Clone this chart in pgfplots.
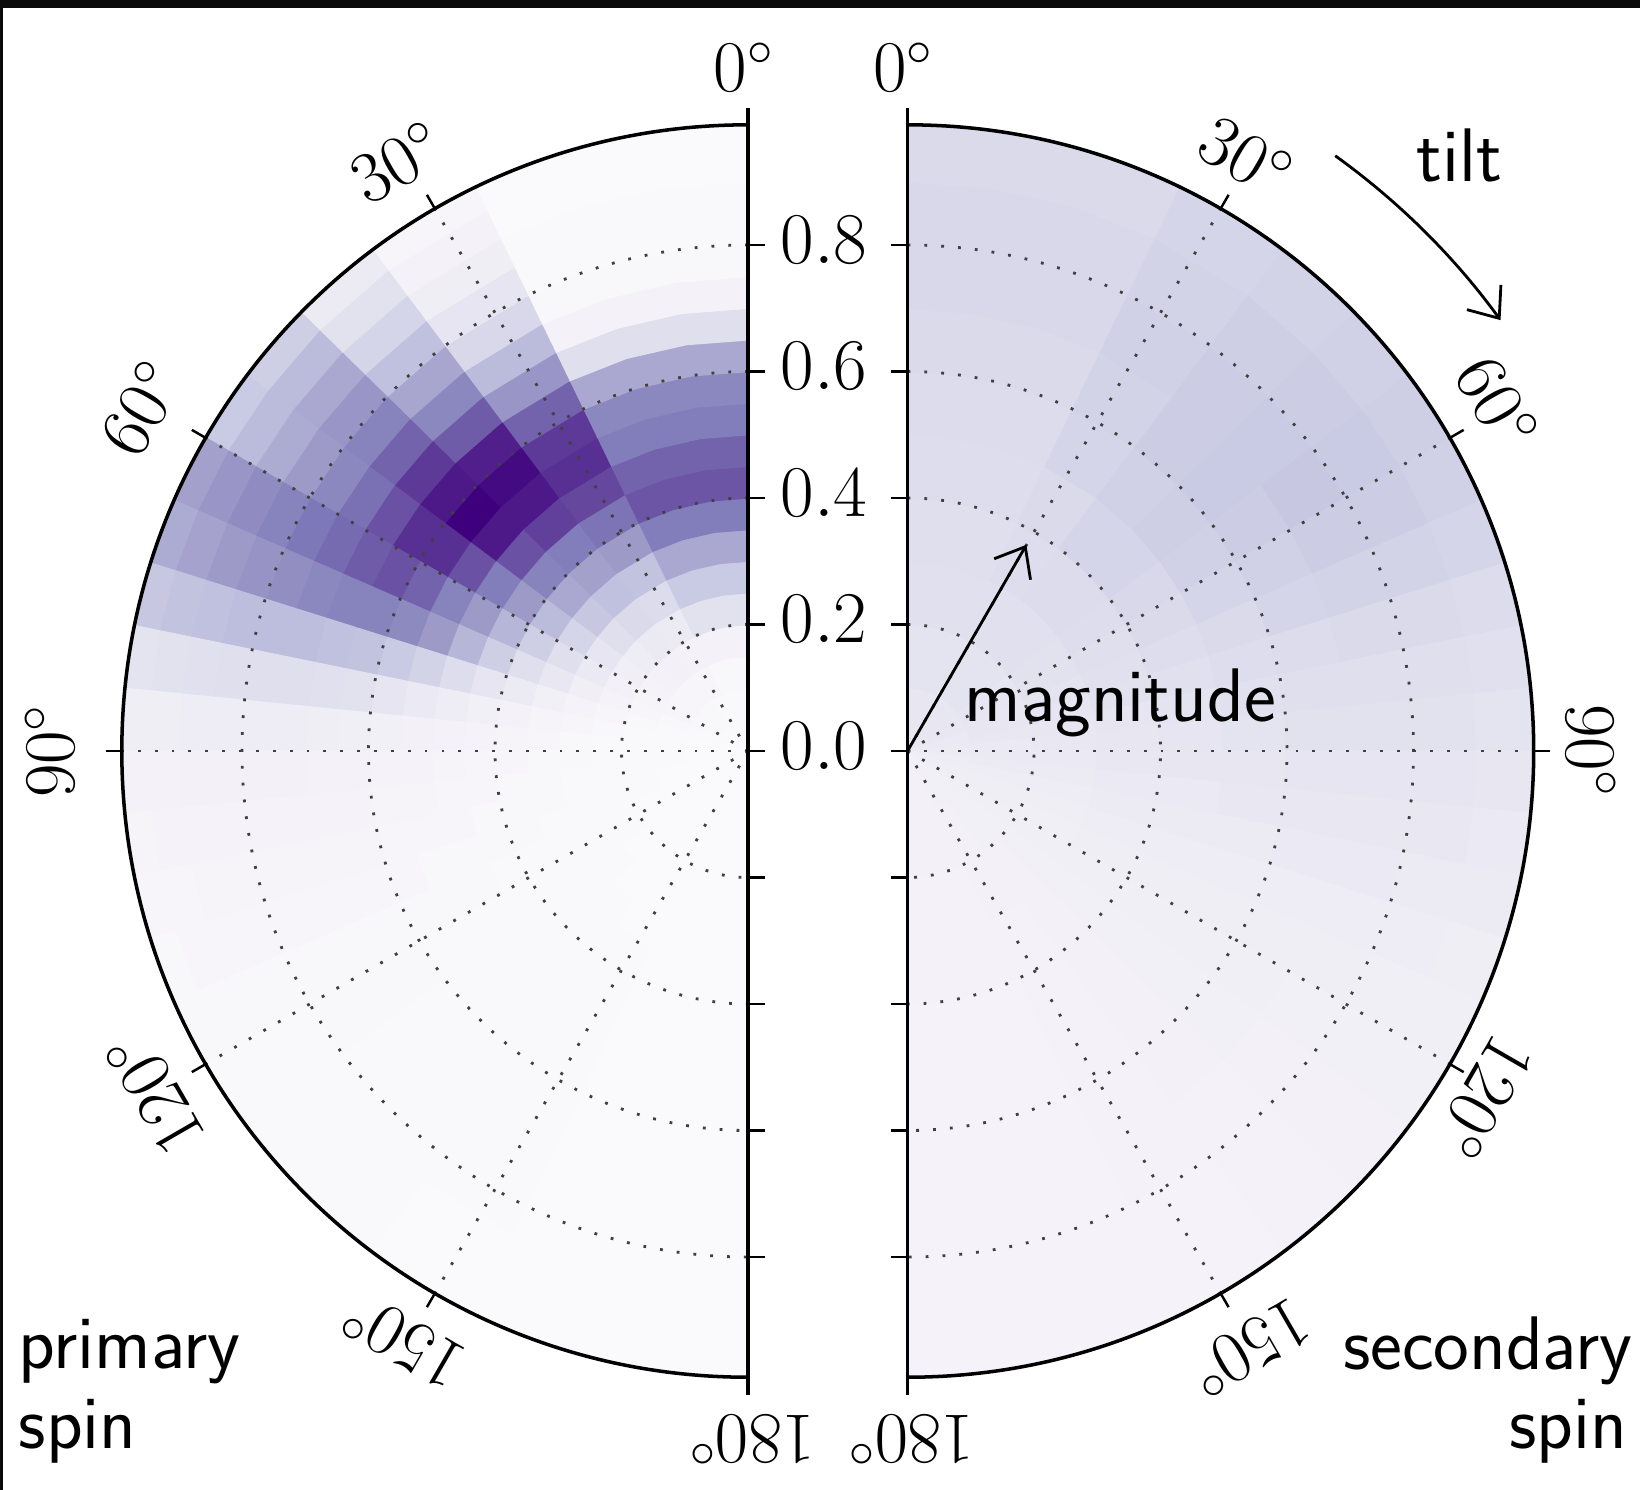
\documentclass[border=0pt]{standalone}
\usepackage{pgfplots}
\pgfplotsset{compat=1.18}
\usetikzlibrary{arrows.meta}

\newcommand\numfont{\fontsize{21.5}{25}\selectfont}
\newcommand\txtfont{\fontsize{21.6}{25}\selectfont\sffamily}

\pgfplotsset{
  spinpanel/.style={
    hide axis, clip=false,
    x=6.325cm, y=6.325cm,
    ymin=-1.15, ymax=1.15,
    anchor=south west,
    colormap={purples}{rgb255=(252,251,253) rgb255=(239,237,245) rgb255=(218,218,235)
      rgb255=(188,189,220) rgb255=(158,154,200) rgb255=(128,125,186)
      rgb255=(106,81,163) rgb255=(84,39,143) rgb255=(63,0,125)},
    point meta min=0, point meta max=1,
  },
}
\tikzset{
  spingrid/.style={black!75, line width=0.8pt, dash pattern=on 0.8pt off 4pt},
  spinframe/.style={line width=1.0pt},
  barb/.style={-{Straight Barb[length=2.6mm,width=4.2mm]}, line width=0.8pt},
  lbl/.style={font=\numfont, inner sep=0.5pt},
}

\begin{document}
\begin{tikzpicture}
\fill[white] (0,0) rectangle (16.4,-14.9);
\fill[black!96] (0,0) rectangle (16.4,-0.08);
\fill[black!96] (0,0) rectangle (0.03,-14.9);

% ---------------- primary spin (left half disk), centre at (7.48,-7.51)
\begin{scope}[shift={(0.5225,-14.78375)}]
\begin{axis}[spinpanel, xmin=-1.1, xmax=0.2]
\addplot[surf, shader=flat corner, point meta=explicit, data cs=polar]
  table[x expr=\thisrow{t}+90, y=r, meta=v] {
t r v
0 0 0.03
8.61 0 0.03
17.23 0 0.03
25.84 0 0.03
36.87 0 0.03
45.57 0 0.03
53.13 0 0.03
60 0 0.03
66.42 0 0.03
72.54 0 0.02
78.46 0 0.02
84.26 0 0.02
90 0 0.02
95.74 0 0.02
101.54 0 0.02
107.46 0 0.02
113.58 0 0.02
120 0 0.02
126.87 0 0.02
134.43 0 0.02
143.13 0 0.02
154.16 0 0.02
162.77 0 0.02
171.39 0 0.02
180 0 0.02

0 0.05 0.03
8.61 0.05 0.03
17.23 0.05 0.03
25.84 0.05 0.03
36.87 0.05 0.04
45.57 0.05 0.04
53.13 0.05 0.04
60 0.05 0.04
66.42 0.05 0.03
72.54 0.05 0.03
78.46 0.05 0.02
84.26 0.05 0.02
90 0.05 0.02
95.74 0.05 0.02
101.54 0.05 0.02
107.46 0.05 0.02
113.58 0.05 0.02
120 0.05 0.02
126.87 0.05 0.02
134.43 0.05 0.02
143.13 0.05 0.02
154.16 0.05 0.02
162.77 0.05 0.02
171.39 0.05 0.02
180 0.05 0.02

0 0.10 0.04
8.61 0.10 0.04
17.23 0.10 0.04
25.84 0.10 0.05
36.87 0.10 0.05
45.57 0.10 0.05
53.13 0.10 0.05
60 0.10 0.05
66.42 0.10 0.04
72.54 0.10 0.03
78.46 0.10 0.03
84.26 0.10 0.03
90 0.10 0.03
95.74 0.10 0.03
101.54 0.10 0.02
107.46 0.10 0.02
113.58 0.10 0.02
120 0.10 0.02
126.87 0.10 0.02
134.43 0.10 0.02
143.13 0.10 0.02
154.16 0.10 0.02
162.77 0.10 0.02
171.39 0.10 0.02
180 0.10 0.02

0 0.15 0.08
8.61 0.15 0.08
17.23 0.15 0.08
25.84 0.15 0.08
36.87 0.15 0.09
45.57 0.15 0.08
53.13 0.15 0.07
60 0.15 0.06
66.42 0.15 0.05
72.54 0.15 0.04
78.46 0.15 0.03
84.26 0.15 0.03
90 0.15 0.03
95.74 0.15 0.03
101.54 0.15 0.03
107.46 0.15 0.03
113.58 0.15 0.02
120 0.15 0.02
126.87 0.15 0.02
134.43 0.15 0.02
143.13 0.15 0.02
154.16 0.15 0.02
162.77 0.15 0.02
171.39 0.15 0.02
180 0.15 0.02

0 0.20 0.20
8.61 0.20 0.20
17.23 0.20 0.20
25.84 0.20 0.14
36.87 0.20 0.15
45.57 0.20 0.13
53.13 0.20 0.11
60 0.20 0.09
66.42 0.20 0.07
72.54 0.20 0.05
78.46 0.20 0.04
84.26 0.20 0.03
90 0.20 0.03
95.74 0.20 0.03
101.54 0.20 0.03
107.46 0.20 0.03
113.58 0.20 0.03
120 0.20 0.03
126.87 0.20 0.02
134.43 0.20 0.02
143.13 0.20 0.02
154.16 0.20 0.02
162.77 0.20 0.02
171.39 0.20 0.02
180 0.20 0.02

0 0.25 0.32
8.61 0.25 0.32
17.23 0.25 0.32
25.84 0.25 0.24
36.87 0.25 0.25
45.57 0.25 0.22
53.13 0.25 0.18
60 0.25 0.15
66.42 0.25 0.11
72.54 0.25 0.07
78.46 0.25 0.05
84.26 0.25 0.04
90 0.25 0.04
95.74 0.25 0.03
101.54 0.25 0.03
107.46 0.25 0.03
113.58 0.25 0.03
120 0.25 0.03
126.87 0.25 0.03
134.43 0.25 0.02
143.13 0.25 0.02
154.16 0.25 0.02
162.77 0.25 0.02
171.39 0.25 0.02
180 0.25 0.02

0 0.30 0.45
8.61 0.30 0.45
17.23 0.30 0.45
25.84 0.30 0.35
36.87 0.30 0.36
45.57 0.30 0.33
53.13 0.30 0.27
60 0.30 0.22
66.42 0.30 0.16
72.54 0.30 0.10
78.46 0.30 0.06
84.26 0.30 0.05
90 0.30 0.04
95.74 0.30 0.04
101.54 0.30 0.04
107.46 0.30 0.03
113.58 0.30 0.03
120 0.30 0.03
126.87 0.30 0.03
134.43 0.30 0.03
143.13 0.30 0.02
154.16 0.30 0.02
162.77 0.30 0.02
171.39 0.30 0.02
180 0.30 0.02

0 0.35 0.62
8.61 0.35 0.62
17.23 0.35 0.62
25.84 0.35 0.50
36.87 0.35 0.48
45.57 0.35 0.45
53.13 0.35 0.38
60 0.35 0.30
66.42 0.35 0.22
72.54 0.35 0.14
78.46 0.35 0.08
84.26 0.35 0.06
90 0.35 0.05
95.74 0.35 0.04
101.54 0.35 0.04
107.46 0.35 0.04
113.58 0.35 0.03
120 0.35 0.03
126.87 0.35 0.03
134.43 0.35 0.03
143.13 0.35 0.025
154.16 0.35 0.02
162.77 0.35 0.02
171.39 0.35 0.02
180 0.35 0.02

0 0.40 0.74
8.61 0.40 0.74
17.23 0.40 0.74
25.84 0.40 0.65
36.87 0.40 0.62
45.57 0.40 0.60
53.13 0.40 0.50
60 0.40 0.40
66.42 0.40 0.30
72.54 0.40 0.18
78.46 0.40 0.10
84.26 0.40 0.07
90 0.40 0.05
95.74 0.40 0.05
101.54 0.40 0.04
107.46 0.40 0.04
113.58 0.40 0.03
120 0.40 0.03
126.87 0.40 0.03
134.43 0.40 0.03
143.13 0.40 0.025
154.16 0.40 0.02
162.77 0.40 0.02
171.39 0.40 0.02
180 0.40 0.02

0 0.45 0.70
8.61 0.45 0.70
17.23 0.45 0.70
25.84 0.45 0.78
36.87 0.45 0.80
45.57 0.45 0.75
53.13 0.45 0.62
60 0.45 0.50
66.42 0.45 0.40
72.54 0.45 0.23
78.46 0.45 0.13
84.26 0.45 0.08
90 0.45 0.06
95.74 0.45 0.05
101.54 0.45 0.05
107.46 0.45 0.04
113.58 0.45 0.04
120 0.45 0.03
126.87 0.45 0.03
134.43 0.45 0.03
143.13 0.45 0.025
154.16 0.45 0.02
162.77 0.45 0.02
171.39 0.45 0.02
180 0.45 0.02

0 0.50 0.62
8.61 0.50 0.62
17.23 0.50 0.62
25.84 0.50 0.85
36.87 0.50 0.92
45.57 0.50 0.92
53.13 0.50 0.75
60 0.50 0.60
66.42 0.50 0.50
72.54 0.50 0.28
78.46 0.50 0.15
84.26 0.50 0.09
90 0.50 0.07
95.74 0.50 0.06
101.54 0.50 0.05
107.46 0.50 0.04
113.58 0.50 0.04
120 0.50 0.03
126.87 0.50 0.03
134.43 0.50 0.03
143.13 0.50 0.025
154.16 0.50 0.02
162.77 0.50 0.02
171.39 0.50 0.02
180 0.50 0.02

0 0.55 0.58
8.61 0.55 0.58
17.23 0.55 0.58
25.84 0.55 0.82
36.87 0.55 0.97
45.57 0.55 1.00
53.13 0.55 0.85
60 0.55 0.70
66.42 0.55 0.57
72.54 0.55 0.32
78.46 0.55 0.18
84.26 0.55 0.10
90 0.55 0.07
95.74 0.55 0.06
101.54 0.55 0.05
107.46 0.55 0.05
113.58 0.55 0.04
120 0.55 0.03
126.87 0.55 0.03
134.43 0.55 0.03
143.13 0.55 0.025
154.16 0.55 0.02
162.77 0.55 0.02
171.39 0.55 0.02
180 0.55 0.02

0 0.60 0.45
8.61 0.60 0.45
17.23 0.60 0.45
25.84 0.60 0.70
36.87 0.60 0.90
45.57 0.60 0.92
53.13 0.60 0.85
60 0.60 0.75
66.42 0.60 0.60
72.54 0.60 0.35
78.46 0.60 0.20
84.26 0.60 0.11
90 0.60 0.08
95.74 0.60 0.07
101.54 0.60 0.06
107.46 0.60 0.05
113.58 0.60 0.04
120 0.60 0.04
126.87 0.60 0.03
134.43 0.60 0.03
143.13 0.60 0.025
154.16 0.60 0.02
162.77 0.60 0.02
171.39 0.60 0.02
180 0.60 0.02

0 0.65 0.22
8.61 0.65 0.22
17.23 0.65 0.22
25.84 0.65 0.52
36.87 0.65 0.72
45.57 0.65 0.82
53.13 0.65 0.75
60 0.65 0.72
66.42 0.65 0.60
72.54 0.65 0.36
78.46 0.65 0.21
84.26 0.65 0.12
90 0.65 0.08
95.74 0.65 0.07
101.54 0.65 0.06
107.46 0.65 0.05
113.58 0.65 0.04
120 0.65 0.04
126.87 0.65 0.03
134.43 0.65 0.03
143.13 0.65 0.025
154.16 0.65 0.02
162.77 0.65 0.02
171.39 0.65 0.02
180 0.65 0.02

0 0.70 0.08
8.61 0.70 0.08
17.23 0.70 0.08
25.84 0.70 0.38
36.87 0.70 0.58
45.57 0.70 0.70
53.13 0.70 0.66
60 0.70 0.68
66.42 0.70 0.58
72.54 0.70 0.37
78.46 0.70 0.22
84.26 0.70 0.13
90 0.70 0.09
95.74 0.70 0.07
101.54 0.70 0.06
107.46 0.70 0.05
113.58 0.70 0.04
120 0.70 0.04
126.87 0.70 0.03
134.43 0.70 0.03
143.13 0.70 0.025
154.16 0.70 0.02
162.77 0.70 0.02
171.39 0.70 0.02
180 0.70 0.02

0 0.75 0.04
8.61 0.75 0.04
17.23 0.75 0.04
25.84 0.75 0.26
36.87 0.75 0.46
45.57 0.75 0.60
53.13 0.75 0.58
60 0.75 0.64
66.42 0.75 0.55
72.54 0.75 0.37
78.46 0.75 0.22
84.26 0.75 0.13
90 0.75 0.09
95.74 0.75 0.07
101.54 0.75 0.06
107.46 0.75 0.05
113.58 0.75 0.04
120 0.75 0.04
126.87 0.75 0.03
134.43 0.75 0.03
143.13 0.75 0.025
154.16 0.75 0.02
162.77 0.75 0.02
171.39 0.75 0.02
180 0.75 0.02

0 0.80 0.03
8.61 0.80 0.03
17.23 0.80 0.03
25.84 0.80 0.18
36.87 0.80 0.36
45.57 0.80 0.52
53.13 0.80 0.50
60 0.80 0.60
66.42 0.80 0.53
72.54 0.80 0.37
78.46 0.80 0.22
84.26 0.80 0.13
90 0.80 0.09
95.74 0.80 0.07
101.54 0.80 0.06
107.46 0.80 0.05
113.58 0.80 0.04
120 0.80 0.03
126.87 0.80 0.03
134.43 0.80 0.03
143.13 0.80 0.025
154.16 0.80 0.02
162.77 0.80 0.02
171.39 0.80 0.02
180 0.80 0.02

0 0.85 0.03
8.61 0.85 0.03
17.23 0.85 0.03
25.84 0.85 0.12
36.87 0.85 0.27
45.57 0.85 0.45
53.13 0.85 0.44
60 0.85 0.56
66.42 0.85 0.50
72.54 0.85 0.36
78.46 0.85 0.21
84.26 0.85 0.13
90 0.85 0.09
95.74 0.85 0.07
101.54 0.85 0.06
107.46 0.85 0.05
113.58 0.85 0.04
120 0.85 0.03
126.87 0.85 0.03
134.43 0.85 0.03
143.13 0.85 0.02
154.16 0.85 0.02
162.77 0.85 0.02
171.39 0.85 0.02
180 0.85 0.02

0 0.90 0.02
8.61 0.90 0.02
17.23 0.90 0.02
25.84 0.90 0.08
36.87 0.90 0.20
45.57 0.90 0.38
53.13 0.90 0.38
60 0.90 0.52
66.42 0.90 0.47
72.54 0.90 0.35
78.46 0.90 0.20
84.26 0.90 0.12
90 0.90 0.08
95.74 0.90 0.07
101.54 0.90 0.05
107.46 0.90 0.05
113.58 0.90 0.04
120 0.90 0.03
126.87 0.90 0.03
134.43 0.90 0.03
143.13 0.90 0.02
154.16 0.90 0.02
162.77 0.90 0.02
171.39 0.90 0.02
180 0.90 0.02

0 0.95 0.02
8.61 0.95 0.02
17.23 0.95 0.02
25.84 0.95 0.05
36.87 0.95 0.14
45.57 0.95 0.30
53.13 0.95 0.32
60 0.95 0.48
66.42 0.95 0.44
72.54 0.95 0.33
78.46 0.95 0.19
84.26 0.95 0.12
90 0.95 0.08
95.74 0.95 0.06
101.54 0.95 0.05
107.46 0.95 0.04
113.58 0.95 0.04
120 0.95 0.03
126.87 0.95 0.03
134.43 0.95 0.03
143.13 0.95 0.02
154.16 0.95 0.02
162.77 0.95 0.02
171.39 0.95 0.02
180 0.95 0.02

0 0.99 0.02
8.61 0.99 0.02
17.23 0.99 0.02
25.84 0.99 0.05
36.87 0.99 0.14
45.57 0.99 0.30
53.13 0.99 0.32
60 0.99 0.48
66.42 0.99 0.44
72.54 0.99 0.33
78.46 0.99 0.19
84.26 0.99 0.12
90 0.99 0.08
95.74 0.99 0.06
101.54 0.99 0.05
107.46 0.99 0.04
113.58 0.99 0.04
120 0.99 0.03
126.87 0.99 0.03
134.43 0.99 0.03
143.13 0.99 0.02
154.16 0.99 0.02
162.77 0.99 0.02
171.39 0.99 0.02
180 0.99 0.02
};
% grid
\pgfplotsinvokeforeach{0.2,0.4,0.6,0.8}{
  \draw[spingrid] (axis cs:0,#1) arc[start angle=90, end angle=270, radius=#1*6.325cm];
}
\pgfplotsinvokeforeach{30,60,90,120,150}{
  \draw[spingrid] (axis cs:0,0) -- ++(90+#1:6.262cm);
  \draw[line width=0.7pt] (axis cs:0,0) ++(90+#1:6.262cm) -- ++(90+#1:0.16cm);
}
\draw[spinframe] (axis cs:0,0.99) arc[start angle=90, end angle=270, radius=6.262cm];
\draw[spinframe] (axis cs:0,-1.018) -- (axis cs:0,1.016);
\pgfplotsinvokeforeach{-0.8,-0.6,-0.4,-0.2,0,0.2,0.4,0.6,0.8}{
  \draw[line width=0.8pt] (axis cs:0,#1) -- ++(0.17cm,0pt);
}
% radial labels
\node[lbl] at (axis cs:0.120,0.008) {$0.0$};
\node[lbl] at (axis cs:0.120,0.208) {$0.2$};
\node[lbl] at (axis cs:0.120,0.408) {$0.4$};
\node[lbl] at (axis cs:0.120,0.608) {$0.6$};
\node[lbl] at (axis cs:0.120,0.808) {$0.8$};
% tilt labels
\node[lbl] at (axis cs:-0.006,1.081) {$0^\circ$};
\node[lbl, rotate=30] at (axis cs:-0.555,0.931) {$30^\circ$};
\node[lbl, rotate=60] at (axis cs:-0.960,0.542) {$60^\circ$};
\node[lbl, rotate=90] at (axis cs:-1.104,0) {$90^\circ$};
\node[lbl, rotate=120] at (axis cs:-0.938,-0.541) {$120^\circ$};
\node[lbl, rotate=150] at (axis cs:-0.545,-0.933) {$150^\circ$};
\node[lbl, rotate=180] at (axis cs:0.006,-1.089) {$180^\circ$};
\end{axis}
\end{scope}

% ---------------- secondary spin (right half disk), centre at (9.075,-7.51)
\begin{scope}[shift={(7.81,-14.78375)}]
\begin{axis}[spinpanel, xmin=-0.2, xmax=1.15]
\addplot[surf, shader=flat corner, point meta=explicit, data cs=polar]
  table[x expr=90-\thisrow{t}, y=r, meta=v] {
t r v
0 0 0.17
8.61 0 0.17
17.23 0 0.17
25.84 0 0.17
36.87 0 0.17
45.57 0 0.17
53.13 0 0.17
60 0 0.16
66.42 0 0.16
72.54 0 0.15
78.46 0 0.15
84.26 0 0.14
90 0 0.14
95.74 0 0.13
101.54 0 0.13
107.46 0 0.12
113.58 0 0.12
120 0 0.11
126.87 0 0.11
134.43 0 0.10
143.13 0 0.10
154.16 0 0.09
162.77 0 0.09
171.39 0 0.09
180 0 0.09

0 0.1 0.19
8.61 0.1 0.19
17.23 0.1 0.19
25.84 0.1 0.19
36.87 0.1 0.19
45.57 0.1 0.19
53.13 0.1 0.18
60 0.1 0.18
66.42 0.1 0.17
72.54 0.1 0.17
78.46 0.1 0.16
84.26 0.1 0.15
90 0.1 0.15
95.74 0.1 0.14
101.54 0.1 0.13
107.46 0.1 0.12
113.58 0.1 0.12
120 0.1 0.11
126.87 0.1 0.10
134.43 0.1 0.10
143.13 0.1 0.09
154.16 0.1 0.09
162.77 0.1 0.09
171.39 0.1 0.09
180 0.1 0.09

0 0.2 0.21
8.61 0.2 0.21
17.23 0.2 0.21
25.84 0.2 0.21
36.87 0.2 0.21
45.57 0.2 0.21
53.13 0.2 0.20
60 0.2 0.20
66.42 0.2 0.19
72.54 0.2 0.18
78.46 0.2 0.17
84.26 0.2 0.16
90 0.2 0.15
95.74 0.2 0.14
101.54 0.2 0.13
107.46 0.2 0.12
113.58 0.2 0.11
120 0.2 0.11
126.87 0.2 0.10
134.43 0.2 0.09
143.13 0.2 0.09
154.16 0.2 0.08
162.77 0.2 0.08
171.39 0.2 0.08
180 0.2 0.08

0 0.3 0.22
8.61 0.3 0.22
17.23 0.3 0.22
25.84 0.3 0.23
36.87 0.3 0.24
45.57 0.3 0.24
53.13 0.3 0.23
60 0.3 0.22
66.42 0.3 0.21
72.54 0.3 0.20
78.46 0.3 0.18
84.26 0.3 0.17
90 0.3 0.16
95.74 0.3 0.15
101.54 0.3 0.14
107.46 0.3 0.13
113.58 0.3 0.12
120 0.3 0.11
126.87 0.3 0.10
134.43 0.3 0.09
143.13 0.3 0.08
154.16 0.3 0.08
162.77 0.3 0.08
171.39 0.3 0.08
180 0.3 0.08

0 0.4 0.23
8.61 0.4 0.23
17.23 0.4 0.23
25.84 0.4 0.25
36.87 0.4 0.27
45.57 0.4 0.27
53.13 0.4 0.26
60 0.4 0.25
66.42 0.4 0.23
72.54 0.4 0.21
78.46 0.4 0.19
84.26 0.4 0.18
90 0.4 0.17
95.74 0.4 0.15
101.54 0.4 0.14
107.46 0.4 0.13
113.58 0.4 0.12
120 0.4 0.11
126.87 0.4 0.10
134.43 0.4 0.09
143.13 0.4 0.08
154.16 0.4 0.07
162.77 0.4 0.07
171.39 0.4 0.07
180 0.4 0.07

0 0.5 0.24
8.61 0.5 0.24
17.23 0.5 0.24
25.84 0.5 0.27
36.87 0.5 0.29
45.57 0.5 0.30
53.13 0.5 0.29
60 0.5 0.27
66.42 0.5 0.25
72.54 0.5 0.23
78.46 0.5 0.21
84.26 0.5 0.19
90 0.5 0.17
95.74 0.5 0.16
101.54 0.5 0.14
107.46 0.5 0.13
113.58 0.5 0.12
120 0.5 0.11
126.87 0.5 0.10
134.43 0.5 0.09
143.13 0.5 0.08
154.16 0.5 0.07
162.77 0.5 0.07
171.39 0.5 0.07
180 0.5 0.07

0 0.6 0.25
8.61 0.6 0.25
17.23 0.6 0.25
25.84 0.6 0.28
36.87 0.6 0.31
45.57 0.6 0.32
53.13 0.6 0.31
60 0.6 0.29
66.42 0.6 0.27
72.54 0.6 0.24
78.46 0.6 0.22
84.26 0.6 0.20
90 0.6 0.18
95.74 0.6 0.16
101.54 0.6 0.15
107.46 0.6 0.13
113.58 0.6 0.12
120 0.6 0.11
126.87 0.6 0.10
134.43 0.6 0.09
143.13 0.6 0.08
154.16 0.6 0.07
162.77 0.6 0.07
171.39 0.6 0.07
180 0.6 0.07

0 0.7 0.26
8.61 0.7 0.26
17.23 0.7 0.26
25.84 0.7 0.29
36.87 0.7 0.31
45.57 0.7 0.32
53.13 0.7 0.33
60 0.7 0.31
66.42 0.7 0.28
72.54 0.7 0.25
78.46 0.7 0.22
84.26 0.7 0.20
90 0.7 0.18
95.74 0.7 0.16
101.54 0.7 0.15
107.46 0.7 0.13
113.58 0.7 0.12
120 0.7 0.10
126.87 0.7 0.09
134.43 0.7 0.08
143.13 0.7 0.08
154.16 0.7 0.07
162.77 0.7 0.07
171.39 0.7 0.07
180 0.7 0.07

0 0.8 0.26
8.61 0.8 0.26
17.23 0.8 0.26
25.84 0.8 0.28
36.87 0.8 0.30
45.57 0.8 0.31
53.13 0.8 0.32
60 0.8 0.31
66.42 0.8 0.28
72.54 0.8 0.25
78.46 0.8 0.22
84.26 0.8 0.20
90 0.8 0.18
95.74 0.8 0.16
101.54 0.8 0.14
107.46 0.8 0.13
113.58 0.8 0.11
120 0.8 0.10
126.87 0.8 0.09
134.43 0.8 0.08
143.13 0.8 0.07
154.16 0.8 0.07
162.77 0.8 0.07
171.39 0.8 0.07
180 0.8 0.07

0 0.9 0.25
8.61 0.9 0.25
17.23 0.9 0.25
25.84 0.9 0.27
36.87 0.9 0.28
45.57 0.9 0.29
53.13 0.9 0.30
60 0.9 0.29
66.42 0.9 0.27
72.54 0.9 0.24
78.46 0.9 0.21
84.26 0.9 0.19
90 0.9 0.17
95.74 0.9 0.15
101.54 0.9 0.14
107.46 0.9 0.12
113.58 0.9 0.11
120 0.9 0.10
126.87 0.9 0.09
134.43 0.9 0.08
143.13 0.9 0.07
154.16 0.9 0.07
162.77 0.9 0.07
171.39 0.9 0.07
180 0.9 0.07

0 0.99 0.25
8.61 0.99 0.25
17.23 0.99 0.25
25.84 0.99 0.27
36.87 0.99 0.28
45.57 0.99 0.29
53.13 0.99 0.30
60 0.99 0.29
66.42 0.99 0.27
72.54 0.99 0.24
78.46 0.99 0.21
84.26 0.99 0.19
90 0.99 0.17
95.74 0.99 0.15
101.54 0.99 0.14
107.46 0.99 0.12
113.58 0.99 0.11
120 0.99 0.10
126.87 0.99 0.09
134.43 0.99 0.08
143.13 0.99 0.07
154.16 0.99 0.07
162.77 0.99 0.07
171.39 0.99 0.07
180 0.99 0.07
};
\pgfplotsinvokeforeach{0.2,0.4,0.6,0.8}{
  \draw[spingrid] (axis cs:0,#1) arc[start angle=90, end angle=-90, radius=#1*6.325cm];
}
\pgfplotsinvokeforeach{30,60,90,120,150}{
  \draw[spingrid] (axis cs:0,0) -- ++(90-#1:6.262cm);
  \draw[line width=0.7pt] (axis cs:0,0) ++(90-#1:6.262cm) -- ++(90-#1:0.16cm);
}
\draw[spinframe] (axis cs:0,0.99) arc[start angle=90, end angle=-90, radius=6.262cm];
\draw[spinframe] (axis cs:0,-1.018) -- (axis cs:0,1.016);
\pgfplotsinvokeforeach{-0.8,-0.6,-0.4,-0.2,0,0.2,0.4,0.6,0.8}{
  \draw[line width=0.8pt] (axis cs:0,#1) -- ++(-0.17cm,0pt);
}
\node[lbl] at (axis cs:-0.006,1.081) {$0^\circ$};
\node[lbl, rotate=-30] at (axis cs:0.536,0.939) {$30^\circ$};
\node[lbl, rotate=-60] at (axis cs:0.933,0.550) {$60^\circ$};
\node[lbl, rotate=-90] at (axis cs:1.081,0) {$90^\circ$};
\node[lbl, rotate=-120] at (axis cs:0.912,-0.549) {$120^\circ$};
\node[lbl, rotate=-150] at (axis cs:0.541,-0.945) {$150^\circ$};
\node[lbl, rotate=180] at (axis cs:0.006,-1.089) {$180^\circ$};
% annotations
\draw[barb] (axis cs:0,0) -- (axis cs:0.188,0.326);
\end{axis}
\end{scope}

\node[font=\txtfont, anchor=base west, inner sep=0pt] at (9.64,-7.21) {magnitude};
\node[font=\txtfont, anchor=base west, inner sep=0pt] at (14.16,-1.82) {tilt};
\draw[barb] (9.075,-7.51) ++(54.3:7.33) arc[start angle=54.3, end angle=36, radius=7.33];
\node[font=\txtfont, anchor=base west, inner sep=0pt] at (0.18,-13.68) {primary};
\node[font=\txtfont, anchor=base west, inner sep=0pt] at (0.18,-14.48) {spin};
\node[font=\txtfont, anchor=base east, inner sep=0pt] at (16.33,-13.69) {secondary};
\node[font=\txtfont, anchor=base east, inner sep=0pt] at (16.28,-14.48) {spin};
\end{tikzpicture}
\end{document}
